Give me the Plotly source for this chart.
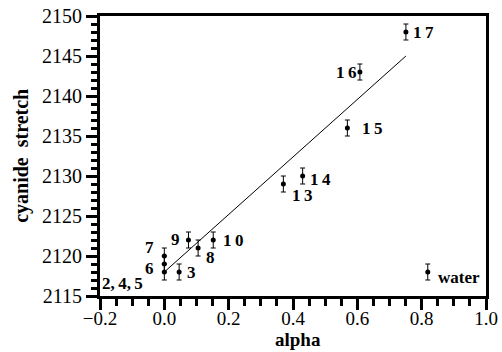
import plotly.graph_objects as go

# data
alpha = [0.0, 0.0, 0.0, 0.046, 0.075, 0.105, 0.152, 0.37, 0.43, 0.569, 0.608, 0.751, 0.819]
stretch = [2118, 2119, 2120, 2118, 2122, 2121, 2122, 2129, 2130, 2136, 2143, 2148, 2118]
err = [1, 1, 1, 1, 1, 1, 1, 1, 1, 1, 1, 1, 1]
labels = ["2,\u20094,\u20095", "6", "7", "3", "9", "8", "1\u20090", "1\u20093", "1\u20094",
          "1\u20095", "1\u20096", "1\u20097", "water"]
fit_x = [0.0, 0.751]
fit_y = [2118, 2145]
x_title = "alpha"
y_title = "cyanide  stretch"

# label placement (style only)
lab_style = [
    ("right", -19, -11), ("right", -8, -4), ("right", -8, 9), ("left", 6, 0),
    ("right", -6, 1), ("left", 6, -9), ("left", 8, 0), ("left", 7, -11),
    ("left", 5, -3), ("left", 13, 0), ("right", -2, 0), ("left", 5, 0), ("left", 8, -5),
]

FONT = "Liberation Serif"
M_T, M_B = 16, 56
H = 352

fig = go.Figure()
fig.add_trace(go.Scatter(x=fit_x, y=fit_y, mode="lines",
                         line=dict(color="black", width=1), showlegend=False))
fig.add_trace(go.Scatter(
    x=alpha, y=stretch, mode="markers",
    marker=dict(color="black", size=5),
    error_y=dict(type="data", array=err, visible=True, color="black",
                 thickness=1, width=2.5),
    showlegend=False))

for xv, yv, t, (anc, xs, ys) in zip(alpha, stretch, labels, lab_style):
    fig.add_annotation(x=xv, y=yv, text=t, showarrow=False,
                       xanchor=anc, yanchor="middle", xshift=xs, yshift=ys,
                       font=dict(family=FONT, size=17, color="black", weight="bold"))

# axis titles as paper-anchored text
plot_h = H - M_T - M_B
fig.add_annotation(x=0.513, y=-M_B / plot_h, xref="paper", yref="paper", text=x_title,
                   showarrow=False, xanchor="center", yanchor="bottom",
                   font=dict(family=FONT, size=19, color="black", weight="bold"))
fig.add_annotation(x=-0.205, y=0.5, xref="paper", yref="paper", text=y_title,
                   showarrow=False, xanchor="center", yanchor="middle", textangle=-90,
                   font=dict(family=FONT, size=20, color="black", weight="bold"))

axis_common = dict(
    showline=True, linewidth=3, linecolor="black", mirror=True,
    ticks="outside", tickwidth=3, tickcolor="black",
    showgrid=False, zeroline=False, automargin=False,
)

fig.update_xaxes(range=[-0.2, 1.0], dtick=0.2, tick0=0, tickformat=".1f", ticklen=11,
                 ticklabelstandoff=-8,
                 tickfont=dict(family=FONT, size=19, color="black"),
                 minor=dict(dtick=0.05, tick0=0, ticklen=7, tickwidth=3,
                            ticks="outside", tickcolor="black"),
                 **axis_common)
fig.update_yaxes(range=[2115, 2150], dtick=5, ticklen=11,
                 tickfont=dict(family=FONT, size=20, color="black"),
                 minor=dict(dtick=1, ticklen=6, tickwidth=3,
                            ticks="outside", tickcolor="black"),
                 **axis_common)

fig.update_layout(
    width=502, height=H,
    margin=dict(l=100, r=16, t=M_T, b=M_B),
    plot_bgcolor="white", paper_bgcolor="white",
)

fig.write_html("out.html")
